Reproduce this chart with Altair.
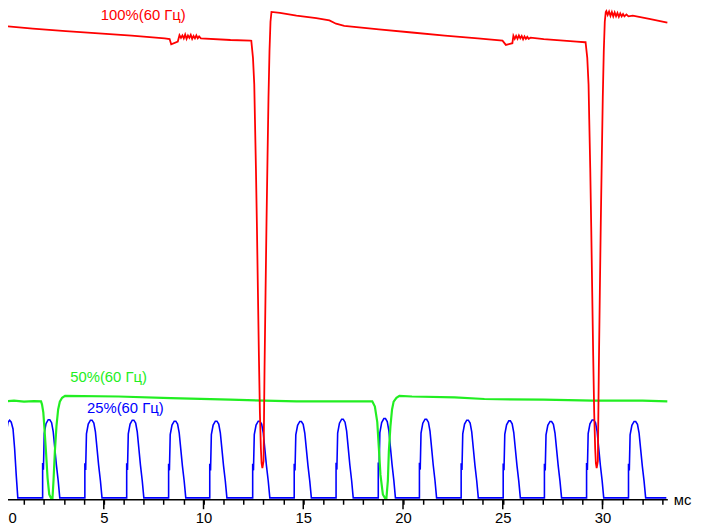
import altair as alt
import pandas as pd

# time in ms, level in pixel-units above the time axis
red_t = [0, 1.438, 3.094, 4.745, 6.396, 8.052, 8.300, 8.379, 8.711, 8.795, 8.87, 8.94, 9.01, 9.08, 9.15, 9.22,
         9.29, 9.36, 9.43, 9.5, 9.57, 9.64, 9.71, 9.78,
         9.866, 11.353, 12.345, 12.395, 12.479, 12.543, 12.578, 12.627, 12.677, 12.727, 12.776, 12.826, 12.875,
         12.910, 12.950, 13.009, 13.059, 13.109, 13.158, 13.208, 13.257, 13.307, 13.357, 13.406, 13.832, 14.660,
         15.652, 16.311, 16.643, 17.055, 18.790, 20.446, 22.097, 23.748, 24.988, 25.156, 25.483, 25.533, 25.6,
         25.67, 25.74, 25.81, 25.88, 25.95, 26.02, 26.09, 26.16, 26.23, 26.3, 26.396, 27.055, 28.706, 29.123,
         29.152, 29.237, 29.301, 29.336, 29.386, 29.435,
         29.485, 29.534, 29.584, 29.633, 29.668, 29.708, 29.768, 29.817, 29.867, 29.916, 29.966, 30.015, 30.065,
         30.115, 30.164, 30.194, 30.26, 30.33, 30.4, 30.47, 30.54, 30.61, 30.68, 30.75, 30.82, 30.89, 30.96,
         31.03, 31.1, 31.2, 31.3, 31.517, 32.345, 33.252]
red_v = [484.7, 482, 479.3, 477, 474.7, 472, 471.3, 466, 468.7, 475.3, 472.5, 475, 472, 476, 471.5, 475, 472.5,
         475.5, 471.5, 474.5, 472, 475, 472, 474,
         472, 470.3, 469.7, 469.5, 452, 425, 389, 339, 279, 212, 147, 89, 52,
         37, 32, 39, 135, 212, 285, 350, 412, 459, 489, 499, 498, 495.3,
         492.7, 490.3, 487, 484.7, 481.3, 478, 474.7, 472, 469.7, 465.3, 467, 474.7, 471.5,
         474.5, 471.5, 475, 472, 474.5, 471, 474, 471.5, 473.5, 471.5, 472.7, 471.3, 468.7, 468,
         468, 452, 425, 389, 339, 279,
         212, 147, 89, 52, 37, 32, 39, 135, 212, 285, 350, 412, 459,
         489, 499, 500, 496, 499.5, 495, 499, 494.5, 498.5, 494.5, 498, 494, 497.5, 494.5,
         497, 494.5, 496.5, 494.5, 495.3, 492, 488]

green_t = [0, 0.5, 1.0, 1.5, 1.854, 1.904, 1.968, 2.018, 2.102, 2.181, 2.266, 2.350, 2.429, 2.479, 2.548, 2.628,
           2.712, 2.796, 2.91, 3.06, 5.74, 8.36, 11.34, 14.66, 17.14, 18.46, 18.59, 18.71, 18.79, 18.87, 18.99,
           19.09, 19.17, 19.24, 19.29, 19.37, 19.45, 19.53, 19.67, 19.82, 20.45, 22.59, 24.08, 27.05, 29.52,
           32.01, 33.25]
green_v = [100.3, 101, 100, 100.5, 100.3, 97, 89, 75, 49, 22, 5, 1.5, 1.5, 19, 49, 75,
           92, 100, 104, 106, 105.3, 103.7, 102, 100.3, 100.3, 100.3, 95, 79, 52, 25, 5,
           1.5, 1.5, 19, 49, 75, 92, 100, 104, 106, 105.3, 104.3, 102.7, 102, 101,
           101, 100.3]

# blue: partial first pulse, then pulses (rise times, peak heights, pulse outline)
blue_first_t = [0, 0, 0.12, 0.2, 0.28, 0.36, 0.45, 0.53, 0.61, 0.69]
blue_first_v = [40, 52, 69, 79, 81, 79, 72, 52, 25, 1.5]
blue_rise = [1.934, 4.051, 6.148, 8.250, 10.312, 12.464, 14.546, 16.644, 18.760, 20.823, 22.915, 25.022,
             27.089, 29.202, 31.304]
blue_peak = [81.5, 81, 81, 80, 80, 80, 79.7, 82, 82.7, 82, 81, 80.3, 79.7, 81.3, 79.7]
pulse_dt = [0, 0, 0.04, 0.08, 0.17, 0.28, 0.36, 0.45, 0.53, 0.61, 0.69, 0.78, 0.86]
pulse_v = [1.5, 37, 30, 67, 77, 81, 81, 78, 69, 52, 35, 19, 1.5]
blue_end = 33.2

labels = ["100%(60 Гц)", "50%(60 Гц)", "25%(60 Гц)"]
label_t = [6.98, 5.24, 6.08]
label_v = [496, 125.5, 93.1]
label_c = ["#ff0000", "#22ee22", "#0000ff"]

minor_ticks = list(range(0, 34))
major_ticks = [0, 5, 10, 15, 20, 25, 30]

# ---------- build tables ----------
red_df = pd.DataFrame({"t": red_t, "v": red_v, "i": range(len(red_t))})
green_df = pd.DataFrame({"t": green_t, "v": green_v, "i": range(len(green_t))})

bt, bv = list(blue_first_t), list(blue_first_v)
for r, pk in zip(blue_rise, blue_peak):
    for dt, v in zip(pulse_dt, pulse_v):
        bt.append(r + dt)
        bv.append(v if v <= 1.5 else v * pk / 81.0)
bt.append(blue_end)
bv.append(1.5)
blue_df = pd.DataFrame({"t": bt, "v": bv, "i": range(len(bt))})

lab_df = pd.DataFrame({"t": label_t, "v": label_v, "txt": labels, "c": label_c})
major_df = pd.DataFrame({"t": major_ticks})

xs = alt.Scale(domain=[0, 33.25], nice=False, zero=False)
ys = alt.Scale(domain=[0, 500], nice=False, zero=False)

xaxis = alt.Axis(
    values=minor_ticks,
    labelExpr="datum.value % 5 === 0 ? datum.label : ''",
    tickSize=5,
    labelAlign={"condition": {"test": "datum.value === 0", "value": "left"}, "value": "center"},
    labelOffset={"condition": {"test": "datum.value === 0", "value": 4}, "value": 0},
    grid=False,
    domainColor="black", domainWidth=1.5,
    tickColor="black", tickWidth=1.5,
    labelColor="black", labelFont="Liberation Sans", labelFontSize=15,
    labelPadding=6, labelFlush=False, labelOverlap=False,
    title="мс", titleX=686, titleY=5, titleAlign="center", titleBaseline="alphabetic",
    titleFont="Liberation Sans", titleFontSize=15, titleFontWeight="normal", titleColor="black",
)

def line(df, color, w):
    return alt.Chart(df).mark_line(color=color, strokeWidth=w, clip=False).encode(
        x=alt.X("t:Q", scale=xs, axis=xaxis),
        y=alt.Y("v:Q", scale=ys, axis=None),
        order="i:Q",
    )

texts = alt.Chart(lab_df).mark_text(font="Liberation Sans", fontSize=15, align="center", baseline="middle").encode(
    x=alt.X("t:Q", scale=xs, axis=xaxis),
    y=alt.Y("v:Q", scale=ys, axis=None),
    text="txt:N",
    color=alt.Color("c:N", scale=None),
)

major = alt.Chart(major_df).mark_rule(color="black", strokeWidth=1.5).encode(
    x=alt.X("t:Q", scale=xs, axis=xaxis),
    y=alt.value(494),
    y2=alt.value(504),
)

chart = alt.layer(
    line(blue_df, "#0000ff", 1.6),
    line(green_df, "#22ee22", 2.2),
    line(red_df, "#ff0000", 1.8),
    texts,
    major,
).properties(
    width=671, height=494,
    autosize=alt.AutoSizeParams(type="none"),
    padding={"left": -4, "top": 0, "right": 28, "bottom": 28},
).configure_view(stroke=None)

chart.save("out.html", embed_options={"renderer": "svg", "actions": False})
